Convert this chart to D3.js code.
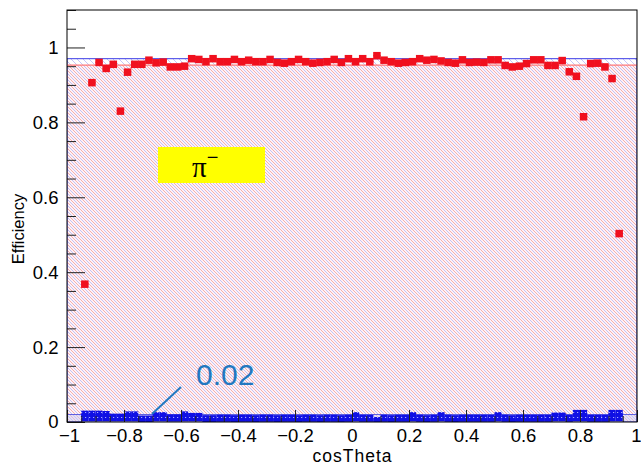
<!DOCTYPE html>
<html><head><meta charset="utf-8">
<script src="https://cdn.jsdelivr.net/npm/d3@7"></script>
<style>
html,body{margin:0;padding:0;background:#fff;}
svg{display:block;font-family:"Liberation Sans",Arial,Helvetica,sans-serif;}
</style></head>
<body><svg id="c" width="641" height="465"></svg>
<script>
// ---- data ----
const binEdgesLo = -1, binEdgesHi = 1, nBins = 80;
const firstBin = 2; // index of first filled bin
const redEff = [0.368,0.906,0.960,0.944,0.955,0.830,0.934,0.955,0.955,0.966,
  0.959,0.961,0.948,0.948,0.950,0.970,0.968,0.962,0.970,0.962,
  0.962,0.968,0.962,0.966,0.962,0.962,0.968,0.960,0.958,0.962,
  0.968,0.962,0.958,0.960,0.962,0.968,0.960,0.970,0.962,0.970,
  0.962,0.978,0.966,0.962,0.958,0.960,0.962,0.970,0.966,0.968,
  0.964,0.960,0.958,0.967,0.960,0.961,0.960,0.967,0.967,0.952,
  0.948,0.950,0.957,0.967,0.967,0.952,0.952,0.965,0.935,0.923,
  0.815,0.957,0.958,0.948,0.917,0.503];
const blueEff = [0.021,0.021,0.021,0.020,0.013,0.013,0.019,0.019,0.008,0.008,
  0.017,0.017,0.011,0.011,0.019,0.015,0.015,0.009,0.009,0.010,
  0.010,0.009,0.010,0.010,0.009,0.010,0.010,0.009,0.010,0.010,
  0.009,0.010,0.010,0.009,0.010,0.010,0.009,0.010,0.017,0.010,
  0.010,0.004,0.010,0.009,0.010,0.010,0.017,0.010,0.009,0.010,
  0.017,0.010,0.009,0.010,0.010,0.010,0.010,0.010,0.017,0.010,
  0.009,0.010,0.010,0.010,0.010,0.010,0.016,0.016,0.010,0.023,
  0.023,0.010,0.010,0.010,0.023,0.023];
const redBand = 0.953, blueBand = 0.970, lowBand = 0.02;
const xTicks = [-1,-0.8,-0.6,-0.4,-0.2,0,0.2,0.4,0.6,0.8,1];
const yTicks = [0,0.2,0.4,0.6,0.8,1];
const xMinor = d3.range(-20,21).map(i=>+(i*0.05).toFixed(2));
const yMinor = d3.range(0,23).map(i=>+(i*0.05).toFixed(2));
const legendText = "π", legendSup = "−";
const noteText = "0.02";
const xTitle = "cosTheta", yTitle = "Efficiency";

// ---- layout ----
const svg = d3.select("#c");
const L=67,R=637,T=10,B=422;
const x = d3.scaleLinear([binEdgesLo,binEdgesHi],[L,R]);
const y = d3.scaleLinear([0,1.1],[B,T]);
const bw = (binEdgesHi-binEdgesLo)/nBins;
const center = i => binEdgesLo + (i+firstBin+0.5)*bw;

const defs = svg.append("defs");
const cp = defs.append("clipPath").attr("id","clip");
cp.append("rect").attr("x",L).attr("y",T).attr("width",R-L).attr("height",B-T);
function hatch(id,color,off,w){
  const P=6;
  const p = defs.append("pattern").attr("id",id).attr("patternUnits","userSpaceOnUse")
    .attr("width",P).attr("height",P).attr("patternTransform",`translate(${off},0)`);
  p.append("path").attr("d",`M0,0L${P},${P}M-1,${P-1}L1,${P+1}M${P-1},-1L${P+1},1`)
    .attr("stroke",color).attr("stroke-width",w).attr("fill","none");
}
hatch("hb","#8c8cf0",0,0.5);
hatch("hr","#f07c7c",3,0.6);
const dp = defs.append("pattern").attr("id","dots").attr("patternUnits","userSpaceOnUse")
  .attr("width",4).attr("height",5);
dp.append("rect").attr("width",4).attr("height",5).attr("fill","#1010e4");
dp.append("rect").attr("x",1).attr("y",2).attr("width",1.2).attr("height",1).attr("fill","#a8a8ff");

const g = svg.append("g").attr("clip-path","url(#clip)");
// hatched bands
g.append("rect").attr("x",x(-1)).attr("width",x(1)-x(-1))
  .attr("y",y(redBand)).attr("height",y(0)-y(redBand)).attr("fill","#fdf2f6");
g.append("rect").attr("x",x(-1)).attr("width",x(1)-x(-1))
  .attr("y",y(blueBand)).attr("height",y(0)-y(blueBand)).attr("fill","url(#hb)")
  .attr("stroke","#3c3ce6").attr("stroke-width",1);
g.append("rect").attr("x",x(-1)).attr("width",x(1)-x(-1))
  .attr("y",y(redBand)).attr("height",y(0)-y(redBand)).attr("fill","url(#hr)");
g.append("line").attr("x1",x(-1)).attr("x2",x(1)).attr("y1",y(redBand)).attr("y2",y(redBand))
  .attr("stroke","#ff7a7a").attr("stroke-width",1.2);
g.append("rect").attr("x",x(-1)).attr("width",x(1)-x(-1))
  .attr("y",y(lowBand)).attr("height",y(0)-y(lowBand)).attr("fill","rgba(205,205,245,0.5)")
  .attr("stroke","#6060e0").attr("stroke-width",1);

// blue bins: error box + marker
g.selectAll(".bb").data(blueEff).join("rect").attr("class","bb")
  .attr("x",(d,i)=>x(center(i)-bw/2)).attr("width",x(bw)-x(0))
  .attr("y",d=>y(d)).attr("height",d=>Math.max(0,y(0)-1-y(d)))
  .attr("fill","url(#dots)");
g.selectAll(".bm").data(blueEff).join("rect").attr("class","bm")
  .attr("x",(d,i)=>x(center(i)-bw/2)).attr("width",x(bw)-x(0))
  .attr("y",d=>y(d)-3.5).attr("height",7)
  .attr("fill","url(#dots)");

// red markers
g.selectAll(".rl").data(redEff).join("line").attr("class","rl")
  .attr("x1",(d,i)=>x(center(i)-bw/2)).attr("x2",(d,i)=>x(center(i)+bw/2))
  .attr("y1",d=>y(d)).attr("y2",d=>y(d)).attr("stroke","#f0101e").attr("stroke-width",1.5);
g.selectAll(".rm").data(redEff).join("rect").attr("class","rm")
  .attr("x",(d,i)=>x(center(i))-3.75).attr("y",d=>y(d)-3.75)
  .attr("width",7.5).attr("height",7.5).attr("fill","#f0101e");

// legend box
svg.append("rect").attr("x",158).attr("y",147).attr("width",107).attr("height",36).attr("fill","#ffff00");
const lt = svg.append("text").attr("x",192).attr("y",177)
  .attr("font-family","'Liberation Serif','DejaVu Serif',serif").attr("font-size",29).attr("fill","#000");
lt.append("tspan").text(legendText);
lt.append("tspan").attr("dy",-13).attr("font-size",20).attr("font-family","'Liberation Sans',Arial,sans-serif").text(legendSup);

// note
svg.append("text").attr("x",196).attr("y",385).attr("font-size",30).attr("fill","#2278c0").text(noteText);
svg.append("line").attr("x1",181).attr("y1",387).attr("x2",152).attr("y2",414)
  .attr("stroke","#2278c0").attr("stroke-width",2);

// axes
svg.append("g").attr("transform",`translate(0,${B})`)
  .call(d3.axisBottom(x).tickValues(xMinor.filter(v=>!xTicks.some(t=>Math.abs(t-v)<1e-6))).tickSize(-6).tickFormat(""));
const ax = svg.append("g").attr("transform",`translate(0,${B})`)
  .call(d3.axisBottom(x).tickValues(xTicks).tickSize(-12).tickPadding(7).tickFormat(d3.format("~g")));
svg.append("g").attr("transform",`translate(${L},0)`)
  .call(d3.axisLeft(y).tickValues(yMinor.filter(v=>!yTicks.some(t=>Math.abs(t-v)<1e-6))).tickSize(-9).tickFormat(""));
svg.append("g").attr("transform",`translate(${L},0)`)
  .call(d3.axisLeft(y).tickValues(yTicks).tickSize(-18).tickPadding(8.5).tickFormat(d3.format("~g")));
svg.selectAll(".domain").remove();
svg.selectAll(".tick line").attr("stroke","#222");
svg.selectAll(".tick text").attr("font-size",18.5).attr("fill","#000")
  .attr("font-family","'Liberation Sans',Arial,sans-serif");
// keep the end x labels clear of neighbours / the picture edge
ax.selectAll(".tick text").filter(d=>d===1).attr("text-anchor","end").attr("dx",4);
ax.selectAll(".tick text").filter(d=>d===-1).attr("dx",2);

// frame
svg.append("rect").attr("x",L).attr("y",T).attr("width",R-L).attr("height",B-T)
  .attr("fill","none").attr("stroke","#000").attr("stroke-width",1);

// titles
svg.append("text").attr("x",352).attr("y",462).attr("text-anchor","middle")
  .attr("font-size",17.5).attr("textLength",79).attr("lengthAdjust","spacing").text(xTitle);
svg.append("text").attr("transform","translate(24,229) rotate(-90)").attr("text-anchor","middle")
  .attr("font-size",16.5).text(yTitle);
</script></body></html>
